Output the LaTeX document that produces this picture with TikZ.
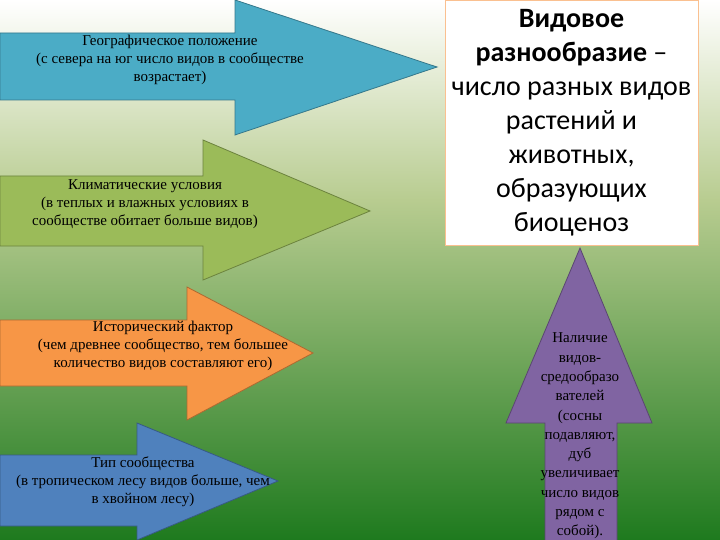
\documentclass[tikz,border=0pt]{standalone}
\usepackage{fontspec}
\setmainfont{Liberation Serif}
\newfontfamily\carlitofont{Carlito}
\begin{document}
\begin{tikzpicture}[x=1pt,y=-1pt,
  arr/.style={draw=#1!70!black,fill=#1,line width=0.8pt},
  lbl/.style={align=center,font=\fontsize{15}{18}\selectfont,text=black}]
\definecolor{c1}{HTML}{4BACC6}\definecolor{c2}{HTML}{9BBB59}
\definecolor{c3}{HTML}{F79646}\definecolor{c4}{HTML}{4F81BD}
\definecolor{c5}{HTML}{8064A2}
\definecolor{gtop}{HTML}{FFFFFF}\definecolor{gmid}{HTML}{B8CC90}\definecolor{gbot}{HTML}{1E7A1E}
\useasboundingbox (0,0) rectangle (720,540);
\shade[top color=gtop,bottom color=gmid] (0,0) rectangle (720,200);
\shade[top color=gmid,bottom color=gbot] (0,200) rectangle (720,540);
\draw[arr=c1] (0,33)--(235,33)--(235,0)--(437,67)--(235,135)--(235,100)--(0,100)--cycle;
\draw[arr=c2] (0,176)--(203,176)--(203,140)--(370,211)--(203,280)--(203,246)--(0,246)--cycle;
\draw[arr=c3] (0,320)--(187,320)--(187,287)--(313,353)--(187,420)--(187,386)--(0,386)--cycle;
\draw[arr=c4] (0,455)--(137,455)--(137,423)--(278,481)--(137,540)--(137,526)--(0,526)--cycle;
\draw[arr=c5] (580,248)--(652,423)--(617,423)--(617,541)--(545,541)--(545,423)--(506,423)--cycle;
\node[lbl] (t1) at (170,60) {Географическое положение\\(с севера на юг число видов в сообществе\\возрастает)};
\node[lbl] (t2) at (145,204) {Климатические условия\\(в теплых и влажных условиях в\\сообществе обитает больше видов)};
\node[lbl] (t3) at (163,346) {Исторический фактор\\(чем древнее сообщество, тем большее\\количество видов составляют его)};
\node[lbl] (t4) at (143,482) {Тип сообщества\\(в тропическом лесу видов больше, чем\\в хвойном лесу)};
\node[lbl,font=\fontsize{15}{19.3}\selectfont] (t5) at (580,436) {Наличие\\видов-\\средообразо\\вателей\\(сосны\\подавляют,\\дуб\\увеличивает\\число видов\\рядом с\\собой).};
\node[draw=c3!60,fill=white,line width=0.6pt,minimum width=253pt,minimum height=245pt,anchor=north west] (box) at (445,0) {};
\node[align=center,font=\carlitofont\fontsize{28}{34}\selectfont] (bt) at (571.5,123) {\textbf{Видовое}\\\textbf{разнообразие} –\\число разных видов\\растений и\\животных,\\образующих\\биоценоз};
\end{tikzpicture}
\end{document}
